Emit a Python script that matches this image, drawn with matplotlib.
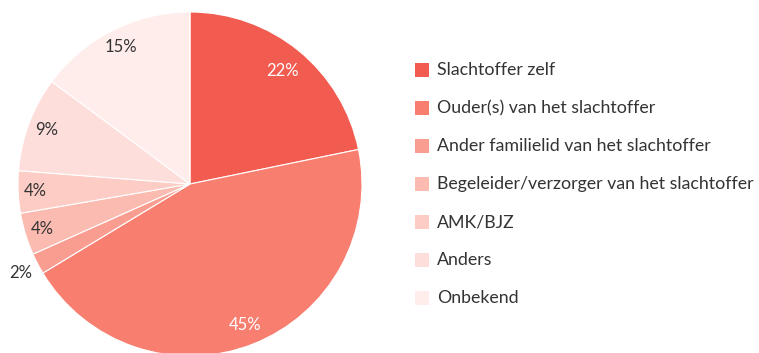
import numpy as np
import matplotlib
matplotlib.use("Agg")
import matplotlib.pyplot as plt
from matplotlib.patches import Rectangle

categories = [
    "Slachtoffer zelf",
    "Ouder(s) van het slachtoffer",
    "Ander familielid van het slachtoffer",
    "Begeleider/verzorger van het slachtoffer",
    "AMK/BJZ",
    "Anders",
    "Onbekend",
]
values = [22, 45, 2, 4, 4, 9, 15]
colors = ["#F15B50", "#F87E70", "#FA9D91", "#FCBBB1", "#FDCCC5", "#FDDEDA", "#FFEDEB"]
label_colors = ["white", "white", "#333333", "#333333", "#333333", "#333333", "#333333"]
label_radius = [0.85, 0.88, 1.11, 0.9, 0.9, 0.89, 0.89]

plt.rcParams["font.family"] = ["Lato", "DejaVu Sans"]

W, H = 759, 353
fig = plt.figure(figsize=(W / 100, H / 100), dpi=100)

# pie axes placed in pixel units: centre (190, 184), radius 172
cx, cy, r = 190, 184, 172
ax = fig.add_axes([(cx - r) / W, (H - cy - r) / H, 2 * r / W, 2 * r / H])
wedges, _ = ax.pie(values, colors=colors, startangle=90, counterclock=False,
                   radius=1.0, wedgeprops=dict(edgecolor="white", linewidth=0.8))
ax.set_xlim(-1, 1)
ax.set_ylim(-1, 1)
ax.set_aspect("equal")
ax.axis("off")

for w, v, c, rr in zip(wedges, values, label_colors, label_radius):
    mid = np.deg2rad((w.theta1 + w.theta2) / 2)
    ax.text(rr * np.cos(mid), rr * np.sin(mid), f"{v}%", color=c,
            ha="center", va="center", fontsize=12)

# legend
x0, y0, dy = 415, 70, 38
for i, (name, col) in enumerate(zip(categories, colors)):
    y = y0 + i * dy
    fig.patches.append(Rectangle((x0 / W, (H - y - 7) / H), 14 / W, 14 / H,
                                 transform=fig.transFigure, facecolor=col,
                                 edgecolor="none"))
    fig.text(437 / W, (H - y) / H, name, ha="left", va="center",
             fontsize=12.8, color="#333333")

fig.savefig("out.png", dpi=100)
